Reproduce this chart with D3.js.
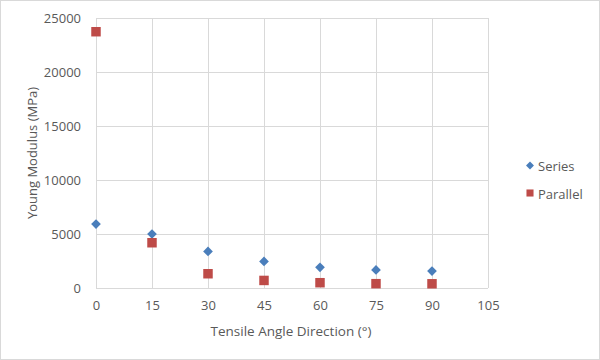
<!DOCTYPE html>
<html>
<head>
<meta charset="utf-8">
<script src="https://cdn.jsdelivr.net/npm/d3@7"></script>
<style>
  body { margin: 0; background: #fff; }
  svg text { font-family: "Open Sans", "Liberation Sans", sans-serif; fill: #595959; }
</style>
</head>
<body>
<svg id="chart" width="600" height="360"></svg>
<script>
// data
const angles = [0, 15, 30, 45, 60, 75, 90];
const seriesVals = [5920, 5000, 3390, 2460, 1910, 1670, 1570];
const parallelVals = [23730, 4190, 1320, 700, 490, 400, 390];
const xTicks = [0, 15, 30, 45, 60, 75, 90, 105];
const yTicks = [0, 5000, 10000, 15000, 20000, 25000];

let svg = d3.select("svg#chart");
const margin = { top: 18, left: 96, right: 112, bottom: 72 };
const innerWidth = svg.attr("width") - margin.left - margin.right;
const innerHeight = svg.attr("height") - margin.top - margin.bottom;

// outer border of chart area
svg.append("rect")
    .attr("x", 0.5).attr("y", 0.5)
    .attr("width", 599).attr("height", 359)
    .attr("fill", "#fff")
    .attr("stroke", "#d9d9d9");

let plot = svg.append("g")
    .attr("transform", `translate(${margin.left},${margin.top})`);

let xScale = d3.scaleLinear().domain([0, 105]).range([0, innerWidth]);
let yScale = d3.scaleLinear().domain([0, 25000]).range([innerHeight, 0]);

// gridlines
plot.append("g")
    .attr("class", "x gridlines")
    .attr("transform", `translate(0,${innerHeight})`)
    .call(d3.axisBottom(xScale).tickValues(xTicks).tickSize(-innerHeight).tickFormat(""))
    .call(g => g.select(".domain").remove());
plot.append("g")
    .attr("class", "y gridlines")
    .call(d3.axisLeft(yScale).tickValues(yTicks).tickSize(-innerWidth).tickFormat(""))
    .call(g => g.select(".domain").remove());
plot.selectAll(".gridlines line").attr("stroke", "#d9d9d9");

// tick labels
let xAxis = plot.append("g")
    .attr("transform", `translate(0,${innerHeight})`)
    .call(d3.axisBottom(xScale).tickValues(xTicks).tickSize(0).tickPadding(13));
let yAxis = plot.append("g")
    .call(d3.axisLeft(yScale).tickValues(yTicks).tickSize(0).tickPadding(15).tickFormat(d3.format("d")));
[xAxis, yAxis].forEach(a => {
    a.select(".domain").remove();
    a.selectAll("text")
        .style("font-size", "13px")
        .style("font-family", "'Open Sans', sans-serif")
        .attr("fill", "#595959");
});

// axis titles
svg.append("text")
    .attr("x", margin.left + 195)
    .attr("y", 336)
    .attr("text-anchor", "middle")
    .style("font-size", "13.5px")
    .text("Tensile Angle Direction (°)");
svg.append("text")
    .attr("transform", `translate(37,${margin.top + innerHeight / 2}) rotate(-90)`)
    .attr("text-anchor", "middle")
    .style("font-size", "13px")
    .text("Young Modulus (MPa)");

// points
const blue = "#4a7ebb";
const red = "#be4b48";
let diamond = d3.symbol().type(d3.symbolDiamond2).size(60);
let square = d3.symbol().type(d3.symbolSquare).size(90);

plot.selectAll("path.series")
    .data(angles.map((a, i) => ({ x: a, y: seriesVals[i] })))
    .join("path")
    .attr("class", "series")
    .attr("d", diamond)
    .attr("transform", d => `translate(${xScale(d.x)},${yScale(d.y)})`)
    .attr("fill", blue);

plot.selectAll("path.parallel")
    .data(angles.map((a, i) => ({ x: a, y: parallelVals[i] })))
    .join("path")
    .attr("class", "parallel")
    .attr("d", square)
    .attr("transform", d => `translate(${xScale(d.x)},${yScale(d.y)})`)
    .attr("fill", red);

// legend
let legend = svg.append("g").attr("transform", "translate(530,0)");
legend.append("path")
    .attr("d", d3.symbol().type(d3.symbolDiamond2).size(40))
    .attr("transform", "translate(0,165.5)")
    .attr("fill", blue);
legend.append("text")
    .attr("x", 8).attr("y", 166)
    .attr("dominant-baseline", "central")
    .style("font-size", "13px")
    .text("Series");
legend.append("path")
    .attr("d", d3.symbol().type(d3.symbolSquare).size(50))
    .attr("transform", "translate(0,193)")
    .attr("fill", red);
legend.append("text")
    .attr("x", 8).attr("y", 193.5)
    .attr("dominant-baseline", "central")
    .style("font-size", "13px")
    .text("Parallel");
</script>
</body>
</html>
